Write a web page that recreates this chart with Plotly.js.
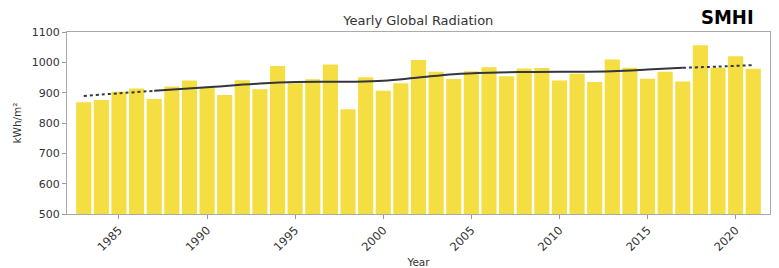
<!DOCTYPE html>
<html>
<head>
<meta charset="utf-8">
<script src="https://cdn.plot.ly/plotly-3.0.1.min.js"></script>
<style>html,body{margin:0;padding:0;background:#fff}#chart{width:779px;height:268px}</style>
</head>
<body>
<div id="chart"></div>
<script>
// Data
const years = [1983,1984,1985,1986,1987,1988,1989,1990,1991,1992,1993,1994,1995,1996,1997,1998,1999,2000,2001,2002,2003,2004,2005,2006,2007,2008,2009,2010,2011,2012,2013,2014,2015,2016,2017,2018,2019,2020,2021];
const radiation = [868,876,903,914,879,920,940,918,892,941,911,988,931,944,993,845,951,906,931,1008,969,945,971,984,954,980,981,940,962,935,1009,982,946,969,937,1056,982,1020,979];

// Smoothed trend
const trendStartYears = [1983,1985,1987];
const trendStartValues = [889,898,906];
const trendMidYears = [1987,1990,1993,1995,1998,2000,2002,2004,2006,2008,2010,2013,2015,2017];
const trendMidValues = [906,918,930,935,936,939,950,961,966,968,969,971,976,982];
const trendEndYears = [2017,2019,2021];
const trendEndValues = [982,986,991];

const xTicks = [1985,1990,1995,2000,2005,2010,2015,2020];
const yTicks = [500,600,700,800,900,1000,1100];

const textColor = '#333333';
const lineColor = '#33363f';

const traces = [
  {type:'bar', x:years, y:radiation, width:0.86,
   marker:{color:'rgba(242,218,40,0.88)', line:{width:0}}, hoverinfo:'x+y'},
  {type:'scatter', mode:'lines', x:trendStartYears, y:trendStartValues,
   line:{color:lineColor, width:2, dash:'dot', shape:'spline'}},
  {type:'scatter', mode:'lines', x:trendMidYears, y:trendMidValues,
   line:{color:lineColor, width:2, shape:'spline'}},
  {type:'scatter', mode:'lines', x:trendEndYears, y:trendEndValues,
   line:{color:lineColor, width:2, dash:'dot', shape:'spline'}}
];

const layout = {
  width:779, height:268,
  margin:{l:67, r:9, t:32, b:54},
  paper_bgcolor:'#ffffff', plot_bgcolor:'#ffffff',
  showlegend:false,
  font:{family:'DejaVu Sans', color:textColor, size:11},
  title:{text:'Yearly Global Radiation', x:0.537, xanchor:'center', y:0.925, yanchor:'middle',
         font:{family:'DejaVu Sans', size:13, color:textColor}},
  xaxis:{range:[1982.05,2021.95], tickvals:xTicks, ticktext:xTicks.map(String),
         tickangle:-45, ticks:'outside', ticklen:4, tickcolor:'#999',
         showline:true, linecolor:'#aaaaaa', linewidth:1, mirror:true,
         showgrid:false, zeroline:false,
         title:{text:'Year', font:{size:10.5, color:textColor}, standoff:6},
         tickfont:{size:11.5, color:textColor}},
  yaxis:{range:[500,1100], tickvals:yTicks, ticks:'outside', ticklen:4, tickcolor:'#999',
         showline:true, linecolor:'#aaaaaa', linewidth:1, mirror:true,
         showgrid:false, zeroline:false,
         title:{text:'kWh/m²', font:{size:10.5, color:textColor}, standoff:8},
         tickfont:{size:11, color:textColor}},
  annotations:[
    {text:'<b>SMHI</b>', xref:'paper', yref:'paper', x:1.0, y:1.0, xanchor:'right', yanchor:'bottom',
     xshift:-14, yshift:1, showarrow:false,
     font:{family:'DejaVu Sans Condensed, DejaVu Sans', size:20, color:'#000'}}
  ]
};

Plotly.newPlot('chart', traces, layout, {displayModeBar:false, staticPlot:true});
</script>
</body>
</html>
